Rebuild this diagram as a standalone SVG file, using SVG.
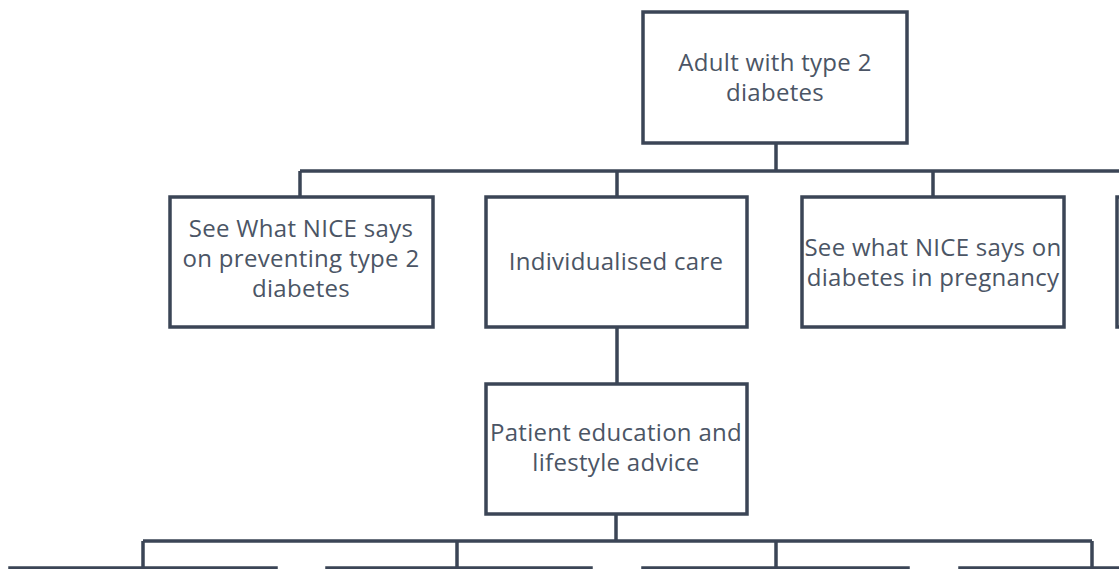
<svg xmlns="http://www.w3.org/2000/svg" width="1119" height="569" viewBox="0 0 1119 569">
<style>
.box{fill:#fff;stroke:#3b4556;stroke-width:3.5}
.c{fill:none;stroke:#3b4556;stroke-width:3.5}
text{font-family:"Open Sans","Noto Sans",sans-serif;font-size:24px;letter-spacing:0.3px;fill:#4b5565;text-anchor:middle}
</style>
<rect width="1119" height="569" fill="#fff"/>
<g id="connectors">
<path class="c" d="M776 143V171M300 171H1119M300 171V197M617 171V197M933 171V197M617 327V384M616 514V541M143 541H1092M143 541V568M457 541V568M776 541V568M1092 541V568"/>
</g>
<g id="n-root"><rect class="box" x="643" y="12" width="264" height="131"/><text x="775" y="71">Adult with type 2</text><text x="775" y="101">diabetes</text></g>
<g id="n-prevent"><rect class="box" x="170" y="197" width="263" height="130"/><text x="301" y="237">See What NICE says</text><text x="301" y="267">on preventing type 2</text><text x="301" y="297">diabetes</text></g>
<g id="n-individual"><rect class="box" x="486" y="197" width="261" height="130"/><text x="616" y="270">Individualised care</text></g>
<g id="n-pregnancy"><rect class="box" x="802" y="197" width="262" height="130"/><text x="933" y="256">See what NICE says on</text><text x="933" y="286">diabetes in pregnancy</text></g>
<g id="n-right"><rect class="box" x="1117" y="197" width="262" height="130"/></g>
<g id="n-education"><rect class="box" x="486" y="384" width="261" height="130"/><text x="616" y="441">Patient education and</text><text x="616" y="471">lifestyle advice</text></g>
<g id="n-b1"><rect class="box" x="10" y="568" width="266" height="130"/></g>
<g id="n-b2"><rect class="box" x="327" y="568" width="264" height="130"/></g>
<g id="n-b3"><rect class="box" x="643" y="568" width="265" height="130"/></g>
<g id="n-b4"><rect class="box" x="960" y="568" width="265" height="130"/></g>
</svg>
